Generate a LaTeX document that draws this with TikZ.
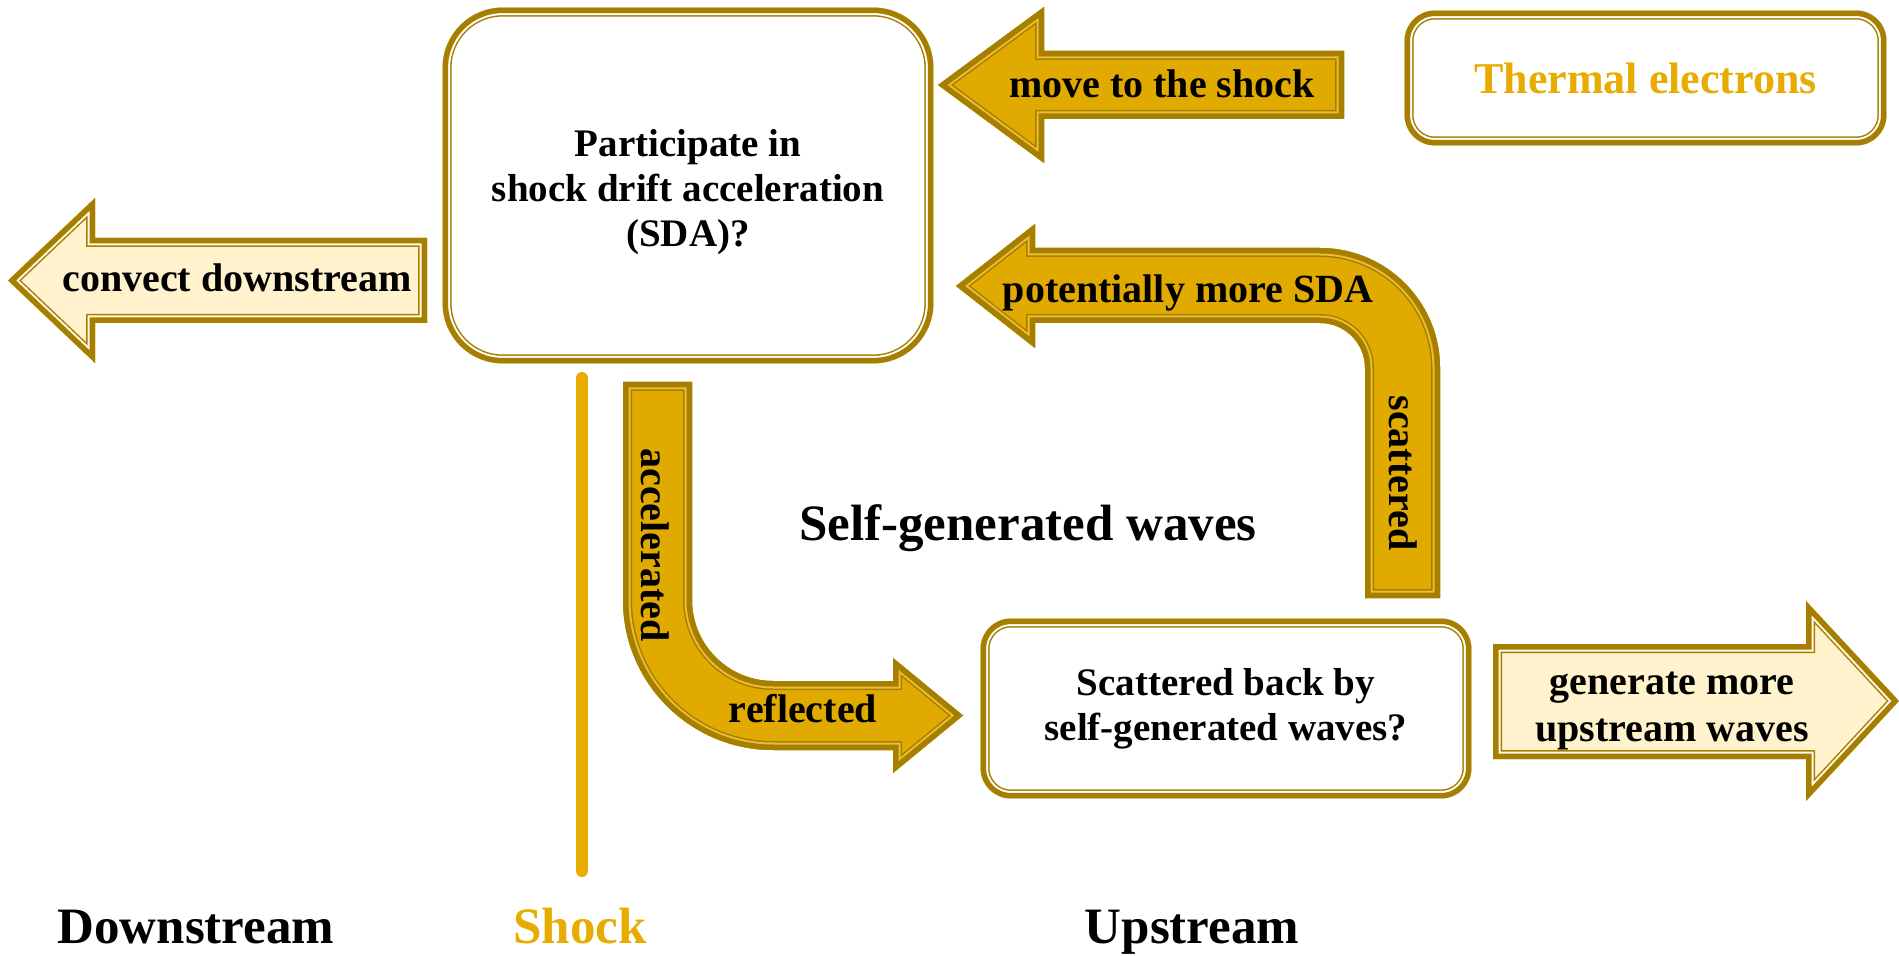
\documentclass[tikz,border=0pt]{standalone}
\usepackage{fontspec}
\setmainfont{Liberation Serif}
\usetikzlibrary{backgrounds}
\definecolor{bd}{HTML}{A67F00}
\definecolor{goldfill}{HTML}{E0AA00}
\definecolor{goldgap}{HTML}{ECBC34}
\definecolor{lightfill}{HTML}{FFF2CC}
\definecolor{lightgap}{HTML}{FFFAEB}
\definecolor{shockcol}{HTML}{E8AC00}
\newcommand{\fancyshape}[3]{%
  \fill[#2] #1;
  \begin{scope}
    \clip #1;
    \draw[bd, line width=9pt] #1;
    \draw[#3, line width=7.5pt] #1;
    \draw[bd, line width=5.5pt] #1;
  \end{scope}}
\begin{document}
\begin{tikzpicture}[x=0.5pt, y=-0.5pt,
  boxnode/.style={inner sep=0pt, align=center, font=\fontsize{19.5pt}{22.5pt}\selectfont\bfseries},
  arrlbl/.style={inner sep=0pt, align=center, font=\fontsize{20pt}{23.5pt}\selectfont\bfseries},
  biglbl/.style={inner sep=0pt, font=\fontsize{25.5pt}{30pt}\selectfont\bfseries}]
\useasboundingbox (0,0) rectangle (1899,956);

% boxes
\node[boxnode, minimum width=245pt, minimum height=177.5pt] (sda) at (688,185.5) {};
\node[boxnode] (sdatext) at (688,192) {Participate in\\shock drift acceleration\\(SDA)?};
\node[boxnode, minimum width=240.5pt, minimum height=67pt,
  font=\fontsize{22pt}{26pt}\selectfont\bfseries, text=shockcol] (thermal) at (1645.5,78) {Thermal electrons};
\node[boxnode, minimum width=245pt, minimum height=89.5pt] (scat) at (1226,708.5)
  {Scattered back by\\self-generated waves?};

% arrow labels
\node[arrlbl, anchor=base] (lmove) at (1162,98) {move to the shock};
\node[arrlbl, anchor=base] (lconv) at (237,292) {convect downstream};
\node[arrlbl, anchor=base] (lpot) at (1188,303) {potentially more SDA};
\node[arrlbl, rotate=-90] (lscat) at (1403,473) {scattered};
\node[arrlbl, rotate=-90] (lacc) at (655,545) {accelerated};
\node[arrlbl, anchor=base] (lrefl) at (803,722) {reflected};
\node[arrlbl] (lgen) at (1672,711) {generate more\\upstream waves};

% big labels
\node[biglbl, anchor=base] (lself) at (1028,540) {Self-generated waves};
\node[biglbl, anchor=base] (ldown) at (196,943) {Downstream};
\node[biglbl, anchor=base, text=shockcol] (lshock) at (580,943) {Shock};
\node[biglbl, anchor=base] (lup) at (1192,943) {Upstream};

\coordinate (shocktop) at (582,378);
\coordinate (shockbot) at (582,871);

\begin{scope}[on background layer]
  \fill[white] (0,0) rectangle (1899,956);
  % boxes
  \fancyshape{[rounded corners=30pt] (sda.north west) rectangle (sda.south east)}{white}{white}
  \fancyshape{[rounded corners=15pt] (thermal.north west) rectangle (thermal.south east)}{white}{white}
  \fancyshape{[rounded corners=15pt] (scat.north west) rectangle (scat.south east)}{white}{white}
  % move to the shock
  \fancyshape{(938,85) -- (1044,7) -- (1044,51) -- (1344,51) -- (1344,119) -- (1044,119) -- (1044,163) -- cycle}{goldfill}{goldgap}
  % convect downstream
  \fancyshape{(8,280.5) -- (95,198) -- (95,238) -- (427,238) -- (427,323) -- (95,323) -- (95,363) -- cycle}{lightfill}{lightgap}
  % potentially more SDA / scattered
  \fancyshape{(956,286) -- (1035,224) -- (1035,248) -- (1320,248) .. controls (1386.3,248) and (1440,301.7) .. (1440,368) -- (1440,598) -- (1365,598) -- (1365,368) .. controls (1365,343.1) and (1344.9,323) .. (1320,323) -- (1035,323) -- (1035,348) -- cycle}{goldfill}{goldgap}
  % accelerated / reflected
  \fancyshape{(623,382) -- (692,382) -- (692,600) .. controls (692,644.7) and (728.3,681) .. (773,681) -- (893,681) -- (893,658) -- (963,715.5) -- (893,773) -- (893,750) -- (773,750) .. controls (690.2,750) and (623,682.8) .. (623,600) -- cycle}{goldfill}{goldgap}
  % generate more upstream waves
  \fancyshape{(1493,644) -- (1806,644) -- (1806,601) -- (1899,701) -- (1806,801) -- (1806,759) -- (1493,759) -- cycle}{lightfill}{lightgap}
  % shock line
  \draw[shockcol, line width=6pt, line cap=round] (shocktop) -- (shockbot);
\end{scope}
\end{tikzpicture}
\end{document}
